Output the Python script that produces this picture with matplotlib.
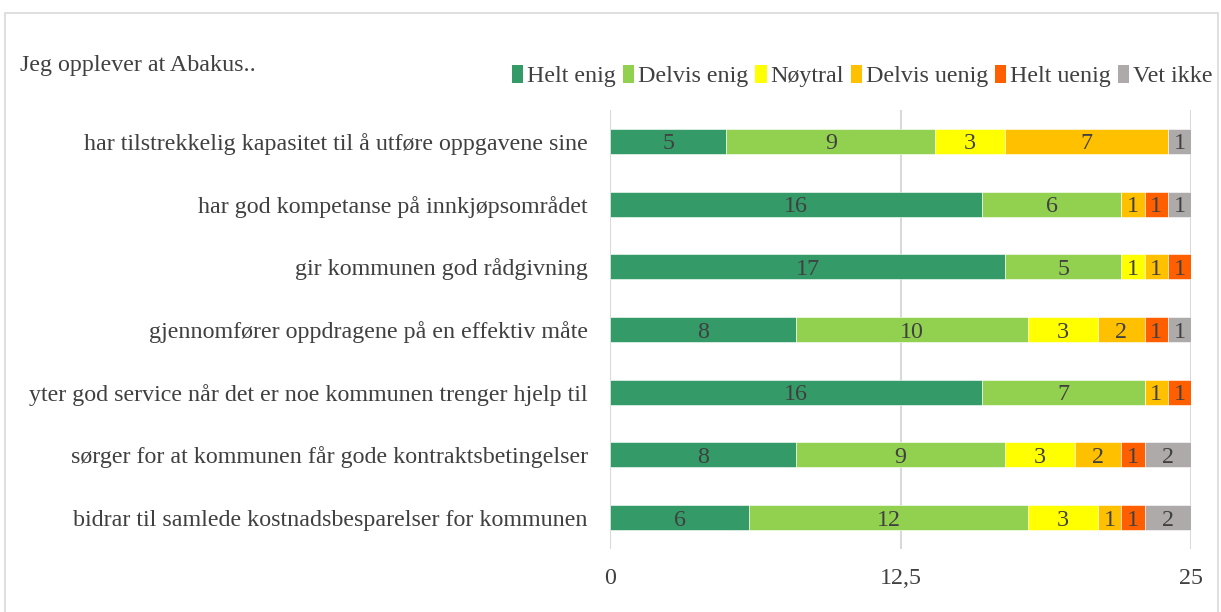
import matplotlib.pyplot as plt
from matplotlib.patches import Rectangle, Patch

plt.rcParams['font.family'] = ['Liberation Serif', 'DejaVu Serif']

statements = [
    'har tilstrekkelig kapasitet til å utføre oppgavene sine',
    'har god kompetanse på innkjøpsområdet',
    'gir kommunen god rådgivning',
    'gjennomfører oppdragene på en effektiv måte',
    'yter god service når det er noe kommunen trenger hjelp til',
    'sørger for at kommunen får gode kontraktsbetingelser',
    'bidrar til samlede kostnadsbesparelser for kommunen',
]
categories = ['Helt enig', 'Delvis enig', 'Nøytral', 'Delvis uenig', 'Helt uenig', 'Vet ikke']
helt_enig = [5, 16, 17, 8, 16, 8, 6]
delvis_enig = [9, 6, 5, 10, 7, 9, 12]
noytral = [3, 0, 1, 3, 0, 3, 3]
delvis_uenig = [7, 1, 1, 2, 1, 2, 1]
helt_uenig = [0, 1, 1, 1, 1, 1, 1]
vet_ikke = [1, 1, 0, 1, 0, 2, 2]
series = [helt_enig, delvis_enig, noytral, delvis_uenig, helt_uenig, vet_ikke]
colors = ['#349A68', '#92D050', '#FFFF00', '#FFC000', '#FF5F00', '#AEAAAA']
text_col = '#404040'
fs = 17.3

fig = plt.figure(figsize=(12.21, 6.12), dpi=100)
ax = fig.add_axes([610 / 1221, 1 - 549 / 612, 581 / 1221, 439 / 612])

ypos = list(range(len(statements)))[::-1]
left = [0] * len(statements)
for vals, col in zip(series, colors):
    ax.barh(ypos, vals, left=left, height=0.4, color=col, edgecolor='white', linewidth=0.4, zorder=3)
    for y, v, l in zip(ypos, vals, left):
        if v > 0:
            ax.text(l + v / 2, y, str(v), ha='center', va='center_baseline', fontsize=fs,
                    color=text_col, zorder=4)
    left = [a + b for a, b in zip(left, vals)]

ax.set_xlim(0, 25)
ax.set_ylim(-0.5, 6.5)
ax.set_xticks([0, 12.5, 25])
ax.set_xticklabels(['0', '12,5', '25'])
ax.set_yticks(ypos)
ax.set_yticklabels(statements)
ax.tick_params(axis='both', length=0, labelsize=fs, labelcolor=text_col)
ax.tick_params(axis='x', pad=14)
ax.tick_params(axis='y', pad=16)
ax.grid(axis='x', color='#D9D9D9', linewidth=1.5, zorder=0)
for s in ax.spines.values():
    s.set_visible(False)

fig.patches.append(Rectangle((5 / 1221, -0.05), 1213 / 1221, 1 - 13 / 612 + 0.05, transform=fig.transFigure,
                             fill=False, edgecolor='#D9D9D9', linewidth=1.2))
fig.text(20 / 1221, 1 - 66 / 612, 'Jeg opplever at Abakus..', fontsize=fs, color=text_col, va='center')

handles = [Patch(facecolor=c, edgecolor='none') for c in colors]
fig.legend(handles, categories, loc='center left', bbox_to_anchor=(500 / 1221, 1 - 76 / 612), ncol=6,
           frameon=False, fontsize=fs, labelcolor=text_col, handlelength=0.47, handleheight=0.8,
           handletextpad=0.15, columnspacing=0.3, borderpad=0)

fig.savefig('out.png', dpi=100)
